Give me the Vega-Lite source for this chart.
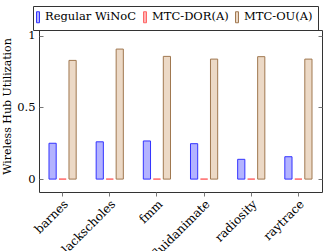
{
  "$schema": "https://vega.github.io/schema/vega-lite/v6.json",
  "width": 283,
  "height": 162,
  "autosize": "none",
  "padding": {"left": 39, "top": 30, "right": 10, "bottom": 59},
  "background": "white",
  "config": {
    "view": {"stroke": "#333", "strokeWidth": 1},
    "font": "DejaVu Serif"
  },
  "data": {
    "values": [
      {"bench": "barnes", "series": "Regular WiNoC", "value": 0.25},
      {"bench": "barnes", "series": "MTC-DOR(A)", "value": 0},
      {"bench": "barnes", "series": "MTC-OU(A)", "value": 0.828},
      {"bench": "blackscholes", "series": "Regular WiNoC", "value": 0.26},
      {"bench": "blackscholes", "series": "MTC-DOR(A)", "value": 0},
      {"bench": "blackscholes", "series": "MTC-OU(A)", "value": 0.907},
      {"bench": "fmm", "series": "Regular WiNoC", "value": 0.266},
      {"bench": "fmm", "series": "MTC-DOR(A)", "value": 0},
      {"bench": "fmm", "series": "MTC-OU(A)", "value": 0.856},
      {"bench": "fluidanimate", "series": "Regular WiNoC", "value": 0.247},
      {"bench": "fluidanimate", "series": "MTC-DOR(A)", "value": 0},
      {"bench": "fluidanimate", "series": "MTC-OU(A)", "value": 0.837},
      {"bench": "radiosity", "series": "Regular WiNoC", "value": 0.138},
      {"bench": "radiosity", "series": "MTC-DOR(A)", "value": 0},
      {"bench": "radiosity", "series": "MTC-OU(A)", "value": 0.854},
      {"bench": "raytrace", "series": "Regular WiNoC", "value": 0.156},
      {"bench": "raytrace", "series": "MTC-DOR(A)", "value": 0},
      {"bench": "raytrace", "series": "MTC-OU(A)", "value": 0.837}
    ]
  },
  "layer": [
    {
      "mark": {"type": "bar", "strokeWidth": 1},
      "encoding": {
        "x": {
          "field": "bench",
          "type": "nominal",
          "sort": null,
          "scale": {"paddingInner": 0, "paddingOuter": -0.05},
          "axis": {
            "title": null,
            "domain": false,
            "tickSize": 4,
            "tickColor": "#777",
            "labelAngle": 315,
            "labelFont": "DejaVu Serif",
            "labelFontSize": 12,
            "labelColor": "#000",
            "labelPadding": 2
          }
        },
        "xOffset": {
          "field": "series",
          "type": "nominal",
          "sort": ["Regular WiNoC", "MTC-DOR(A)", "MTC-OU(A)"],
          "scale": {"paddingInner": 0.28, "paddingOuter": 1.22}
        },
        "y": {
          "field": "value",
          "type": "quantitative",
          "scale": {"domain": [-0.09, 1.04], "nice": false, "zero": false},
          "axis": {
            "title": "Wireless Hub Utilization",
            "titleFont": "DejaVu Serif",
            "titleFontSize": 11,
            "titleFontWeight": "normal",
            "titleColor": "#000",
            "titlePadding": 4,
            "titleY": 76,
            "values": [0, 0.5, 1],
            "format": "~g",
            "domain": false,
            "grid": false,
            "tickSize": -4,
            "tickColor": "#777",
            "labelFont": "DejaVu Serif",
            "labelFontSize": 11.5,
            "labelColor": "#000",
            "labelPadding": 8
          }
        },
        "y2": {"datum": 0},
        "fill": {
          "field": "series",
          "type": "nominal",
          "sort": ["Regular WiNoC", "MTC-DOR(A)", "MTC-OU(A)"],
          "scale": {"range": ["#b3b3ff", "#ffb3b3", "#ecd9c6"]},
          "legend": {
            "title": null,
            "orient": "none",
            "legendX": -6,
            "legendY": -24,
            "direction": "horizontal",
            "strokeColor": "#333",
            "padding": 5,
            "symbolType": "M-1.36,-1L-0.82,-1L-0.82,1L-1.36,1Z",
            "symbolSize": 121,
            "symbolStrokeWidth": 1,
            "labelOffset": -5,
            "labelFont": "DejaVu Serif",
            "labelFontSize": 11.5,
            "labelColor": "#000",
            "columnPadding": 4,
            "encode": {
              "symbols": {"update": {"stroke": {"scale": "stroke", "field": "value"}}}
            }
          }
        },
        "stroke": {
          "field": "series",
          "type": "nominal",
          "sort": ["Regular WiNoC", "MTC-DOR(A)", "MTC-OU(A)"],
          "scale": {"range": ["#3333ff", "#ff6666", "#a07850"]},
          "legend": null
        }
      }
    },
    {
      "mark": {"type": "rule", "opacity": 0},
      "encoding": {
        "y": {
          "field": "value",
          "type": "quantitative",
          "axis": {
            "orient": "right",
            "title": null,
            "labels": false,
            "values": [0, 0.5, 1],
            "domain": false,
            "grid": false,
            "tickSize": -4,
            "tickColor": "#777"
          }
        }
      }
    }
  ],
  "resolve": {"axis": {"y": "independent"}}
}
